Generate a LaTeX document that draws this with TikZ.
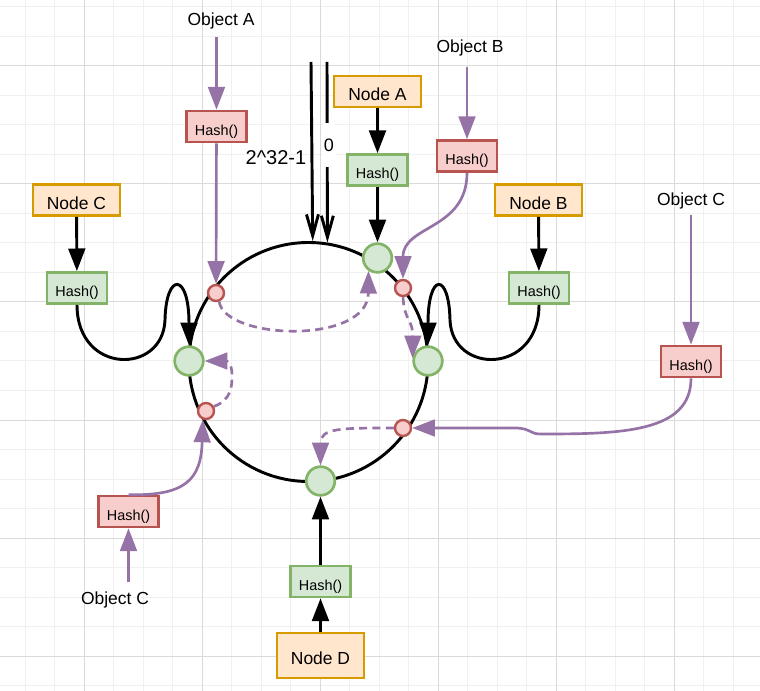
\documentclass[tikz,border=0pt]{standalone}
\usepackage{fontspec}
\setmainfont{Liberation Sans}
\usetikzlibrary{arrows.meta}
\definecolor{ptl}{HTML}{9673A6}
\definecolor{gfill}{HTML}{D5E8D4}
\definecolor{gdraw}{HTML}{82B366}
\definecolor{rfill}{HTML}{F8CECC}
\definecolor{rdraw}{HTML}{B85450}
\definecolor{ofill}{HTML}{FFE6CC}
\definecolor{odraw}{HTML}{D79B00}
\definecolor{gridminor}{HTML}{F0F0F0}
\definecolor{gridmajor}{HTML}{DADADA}
\begin{document}
\begin{tikzpicture}[x=0.75pt,y=-0.75pt,
 nodebox/.style={draw=odraw, fill=ofill, line width=2pt, minimum width=65.25pt, minimum height=23.25pt, inner sep=0pt, text height=13.9pt, text depth=0pt, font=\fontsize{13.1}{15}\selectfont},
 hashg/.style={draw=gdraw, fill=gfill, line width=2pt, minimum width=45pt, minimum height=23.25pt, inner sep=0pt, text height=12.8pt, text depth=0pt, font=\fontsize{10.8}{13}\selectfont},
 hashr/.style={hashg, draw=rdraw, fill=rfill},
 gnode/.style={circle, draw=gdraw, fill=gfill, line width=2pt, minimum size=21.5pt, inner sep=0pt},
 rnode/.style={circle, draw=rdraw, fill=rfill, line width=1.8pt, minimum size=12pt, inner sep=0pt},
 lbl/.style={font=\fontsize{13.1}{15}\selectfont, inner sep=0pt},
 blk/.style={line width=2.2pt, -{Triangle[length=17pt,width=12.5pt]}},
 prp/.style={draw=ptl, line width=2pt, -{Triangle[length=17pt,width=12.5pt]}},
 dsh/.style={prp, dash pattern=on 6pt off 4pt},
 openarr/.style={line width=2.2pt, -{Straight Barb[length=16pt,width=9pt]}},
]
\useasboundingbox (0,0) rectangle (760,691);
\fill[white] (0,0) rectangle (760,691);
% grid
\foreach \i in {0,...,24} \draw[gridminor, line width=0.75pt] ({25+29.5*\i},0) -- ({25+29.5*\i},691);
\foreach \j in {0,...,23} \draw[gridminor, line width=0.75pt] (0,{7+29.5*\j}) -- (760,{7+29.5*\j});
\foreach \k in {0,...,5} {
  \draw[gridmajor, line width=0.75pt] ({84+118*\k},0) -- ({84+118*\k},691);
  \draw[gridmajor, line width=0.75pt] (0,{66+118*\k}) -- (760,{66+118*\k});
}
% ring
\node[circle, draw, line width=2.2pt, minimum size=179.25pt, inner sep=0pt] (ring) at (308.5,362) {};
% ring nodes
\node[gnode] (gA) at (377.5,258) {};
\node[gnode] (gB) at (428,361) {};
\node[gnode] (gC) at (189,361) {};
\node[gnode] (gD) at (320.5,481) {};
\node[rnode] (r1) at (216,293) {};
\node[rnode] (r2) at (403,288) {};
\node[rnode] (r3) at (206,411) {};
\node[rnode] (r4) at (403,428) {};
% boxes
\node[nodebox] (nodeA) at (377.5,91.5) {Node A};
\node[nodebox] (nodeB) at (538.5,200) {Node B};
\node[nodebox] (nodeC) at (76.5,200) {Node C};
\node[nodebox, minimum height=33.75pt] (nodeD) at (320.5,655.5) {Node D};
\node[hashg] (hashA) at (377.5,170) {Hash()};
\node[hashg] (hashB) at (539,288) {Hash()};
\node[hashg] (hashC) at (77,288) {Hash()};
\node[hashg] (hashD) at (320.5,581.5) {Hash()};
\node[hashr] (hashOA) at (216.5,126.5) {Hash()};
\node[hashr] (hashOB) at (467,156) {Hash()};
\node[hashr] (hashOCR) at (691,361.5) {Hash()};
\node[hashr] (hashOCL) at (128.5,511.5) {Hash()};
% labels
\node[lbl] (objA) at (221,21) {Object A};
\node[lbl] (objB) at (470,48) {Object B};
\node[lbl] (objCR) at (691,201) {Object C};
\node[lbl] (objCL) at (115,600) {Object C};
\node[font=\fontsize{15}{17}\selectfont, inner sep=0pt] (l232) at (276,158) {2\textasciicircum 32-1};
% top lines
\coordinate (t1) at (311,62);
\coordinate (t2) at (327,62);
\draw[openarr] (t1) -- (ring.88.8);
\draw[openarr] (t2) -- (ring.81.1);
\node[fill=white, inner xsep=1pt, inner ysep=0pt, minimum height=33pt, font=\fontsize{13.5}{15}\selectfont] (zero) at (329,145) {0};
% black connectors
\draw[blk] (nodeA) -- (hashA);
\draw[blk] (hashA) -- (gA);
\draw[blk] (nodeB) -- (hashB);
\draw[blk] (nodeC) -- (hashC);
\draw[blk] (nodeD) -- (hashD);
\draw[blk] (hashD) -- (gD);
\draw[blk] (hashB.south) .. controls (539,375) and (452,375) .. (450,320) .. controls (449,272) and (428,272) .. (gB.north);
\draw[blk] (hashC.south) .. controls (77,375) and (163,375) .. (165,320) .. controls (166,272) and (189,272) .. (gC.north);
% purple connectors
\coordinate (oa) at (216.5,37);
\coordinate (ob) at (467,67);
\coordinate (ocr) at (691,215);
\coordinate (ocl) at (128.5,582);
\draw[prp] (oa) -- (hashOA);
\draw[prp] (hashOA) -- (r1);
\draw[prp] (ob) -- (hashOB);
\draw[prp] (hashOB.south) .. controls (467,230) and (403,225) .. (r2.north);
\draw[prp] (ocr) -- (hashOCR);
\draw[prp] (hashOCR.south) .. controls (691,433) and (620,434) .. (540,434) .. controls (530,434) and (530,428) .. (515,428) -- (r4.east);
\draw[prp] (ocl) -- (hashOCL);
\draw[prp] (hashOCL.north) .. controls (185,496) and (201,480) .. (r3.250);
% dashed
\draw[dsh] (r1.290) .. controls (225,340) and (368,345) .. (gA.235);
\draw[dsh] (r2.south) .. controls (404,320) and (413,320) .. (gB.170);
\draw[dsh] (r3.30) .. controls (232,400) and (232,385) .. (232,375) .. controls (232,362) and (226,361) .. (gC.east);
\draw[dsh] (r4.west) .. controls (340,428) and (320.5,428) .. (gD.north);
\end{tikzpicture}
\end{document}
